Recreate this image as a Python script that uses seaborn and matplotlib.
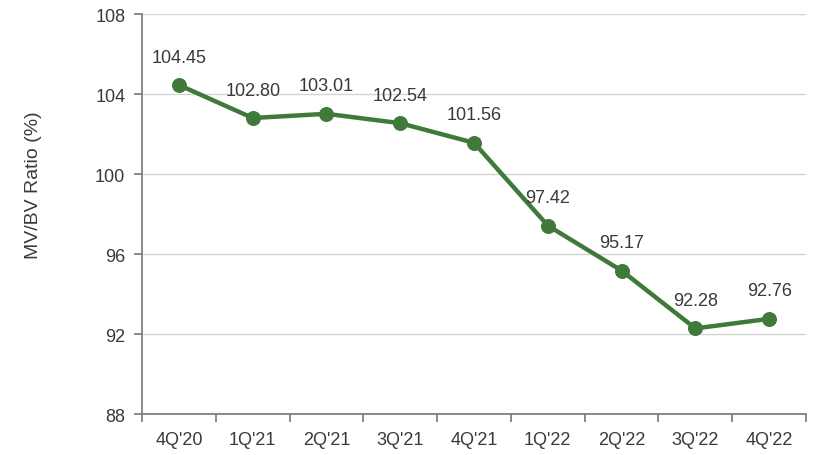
import matplotlib.pyplot as plt
import numpy as np
import pandas as pd
import seaborn as sns

# Data
quarters = ["4Q'20", "1Q'21", "2Q'21", "3Q'21", "4Q'21", "1Q'22", "2Q'22", "3Q'22", "4Q'22"]
ratio = [104.45, 102.80, 103.01, 102.54, 101.56, 97.42, 95.17, 92.28, 92.76]
y_ticks = [88, 92, 96, 100, 104, 108]

df = pd.DataFrame({'quarter': quarters, 'ratio': ratio})

sns.set_style('white')
plt.rcParams['font.family'] = ['Liberation Sans', 'DejaVu Sans']

green = '#3f7a3b'
gray = '#808080'
text_color = '#3a3a3a'

fig = plt.figure(figsize=(8.37, 4.56), dpi=100)
ax = fig.add_axes([0.1697, 0.0899, 0.7933, 0.8772])

sns.lineplot(data=df, x='quarter', y='ratio', ax=ax, color=green, linewidth=3.2,
             marker='o', markersize=10, markeredgecolor=green, sort=False, zorder=3)

# data labels
for i, v in enumerate(ratio):
    ax.annotate(f'{v:.2f}', (i, v), xytext=(0, 14), textcoords='offset points',
                ha='center', va='bottom', fontsize=13, color=text_color)

ax.set_ylim(88, 108)
ax.set_yticks(y_ticks)
ax.set_xlim(-0.5, len(quarters) - 0.5)
ax.set_xticks(range(len(quarters)))
ax.set_xticklabels(quarters)
ax.set_xticks(np.arange(-0.5, len(quarters), 1), minor=True)

ax.grid(axis='y', color='#d4d4d4', linewidth=1)
ax.set_axisbelow(True)

for side in ['top', 'right']:
    ax.spines[side].set_visible(False)
for side in ['left', 'bottom']:
    ax.spines[side].set_color(gray)
    ax.spines[side].set_linewidth(1.3)

ax.tick_params(axis='y', which='major', direction='out', length=6, width=1.3,
               color=gray, labelsize=13, labelcolor=text_color, pad=6, left=True)
ax.tick_params(axis='x', which='major', length=0, labelsize=13, labelcolor=text_color, pad=12)
ax.tick_params(axis='x', which='minor', direction='out', length=6, width=1.3,
               color=gray, bottom=True)

ax.set_xlabel('')
ax.set_ylabel('')
fig.text(34 / 837, 1 - 185 / 456, 'MV/BV Ratio (%)', rotation=90, ha='center', va='center',
         fontsize=14, color=text_color)

fig.savefig('out.png', dpi=100)
